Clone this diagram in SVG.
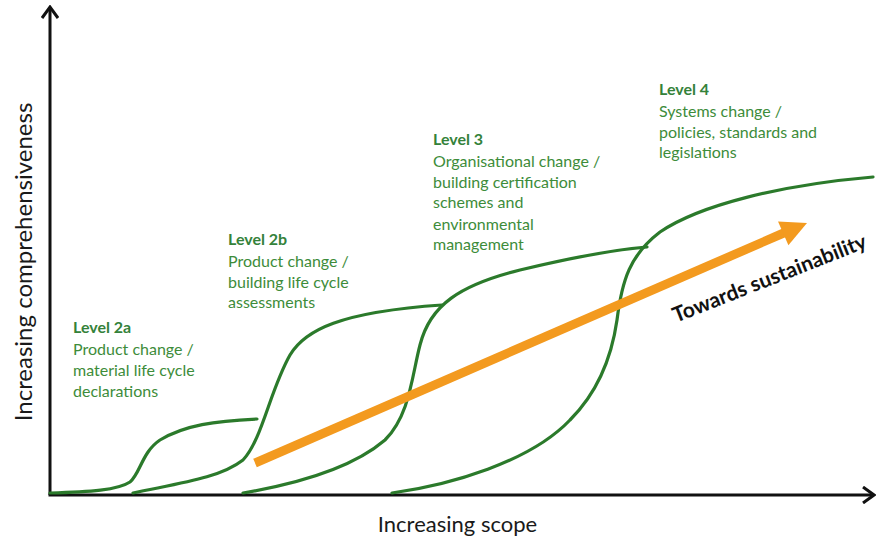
<svg xmlns="http://www.w3.org/2000/svg" width="877" height="541" viewBox="0 0 877 541">
  <style>
    .curve { fill: none; stroke: #2b7a2b; stroke-width: 3.2; stroke-linecap: round; }
    .axis { fill: none; stroke: #111; stroke-width: 3; }
    .lvl { font-family: Lato, "Liberation Sans", sans-serif; font-size: 16px; fill: #3d8c3a; }
    .lvl .b { font-weight: bold; fill: #34823a; }
    .axlabel { font-family: Lato, "Liberation Sans", sans-serif; font-size: 22px; fill: #1a1a1a; }
    .ylabel { font-size: 24px; }
    .toward { font-family: Lato, "Liberation Sans", sans-serif; font-size: 21px; font-weight: bold; fill: #111; }
  </style>
  <defs>
    <marker id="chev" viewBox="0 0 14 18" refX="12" refY="9" markerWidth="14" markerHeight="18" markerUnits="userSpaceOnUse" orient="auto">
      <polyline points="1,1 12,9 1,17" fill="none" stroke="#111" stroke-width="3" stroke-linejoin="miter"/>
    </marker>
  </defs>
  <rect width="877" height="541" fill="#ffffff"/>

  <g id="axes">
    <line class="axis" x1="50" y1="495" x2="50" y2="7" marker-end="url(#chev)"/>
    <line class="axis" x1="48.5" y1="495" x2="874" y2="495" marker-end="url(#chev)"/>
    <text class="axlabel ylabel" transform="translate(32,262) rotate(-90)" text-anchor="middle">Increasing  comprehensiveness</text>
    <text class="axlabel" x="457.5" y="532" text-anchor="middle">Increasing scope</text>
  </g>

  <g id="connectors">
    <path id="curve-2a" class="curve" d="M50,493 C90,492 118,490 130,482 C140,474 142,452 160,440 C185,425 215,421 257,419"/>
    <path id="curve-2b" class="curve" d="M133,493 C180,483 220,478 243,460 C262,440 270,390 290,355 C305,330 340,312 442,305"/>
    <path id="curve-3" class="curve" d="M243,493 C290,485 350,470 385,440 C410,415 412,375 420,345 C430,305 460,285 520,270 C570,258 610,250 647,247"/>
    <path id="curve-4" class="curve" d="M392,493 C450,485 530,462 570,420 C600,390 612,355 617,320 C622,280 630,255 660,232 C700,205 780,185 873,177"/>
  </g>

  <g id="sustainability-arrow">
    <line x1="255" y1="463" x2="786" y2="232" stroke="#f39a1f" stroke-width="9"/>
    <polygon points="807,223 778,221.5 788.4,245.3" fill="#f39a1f"/>
    <text class="toward" transform="translate(772,285) rotate(-21.5)" text-anchor="middle">Towards sustainability</text>
  </g>

  <g id="level-2a" class="lvl">
    <text x="73" y="333" class="b">Level 2a</text>
    <text x="73" y="355">Product change /</text>
    <text x="73" y="376">material life cycle</text>
    <text x="73" y="397">declarations</text>
  </g>

  <g id="level-2b" class="lvl">
    <text x="228" y="245" class="b">Level 2b</text>
    <text x="228" y="267">Product change /</text>
    <text x="228" y="288">building  life cycle</text>
    <text x="228" y="308">assessments</text>
  </g>

  <g id="level-3" class="lvl">
    <text x="433" y="145" class="b">Level 3</text>
    <text x="433" y="167">Organisational change /</text>
    <text x="433" y="188">building certification</text>
    <text x="433" y="208">schemes and</text>
    <text x="433" y="230">environmental</text>
    <text x="433" y="250">management</text>
  </g>

  <g id="level-4" class="lvl">
    <text x="659" y="95" class="b">Level 4</text>
    <text x="659" y="117">Systems change /</text>
    <text x="659" y="138">policies, standards and</text>
    <text x="659" y="158">legislations</text>
  </g>
</svg>
